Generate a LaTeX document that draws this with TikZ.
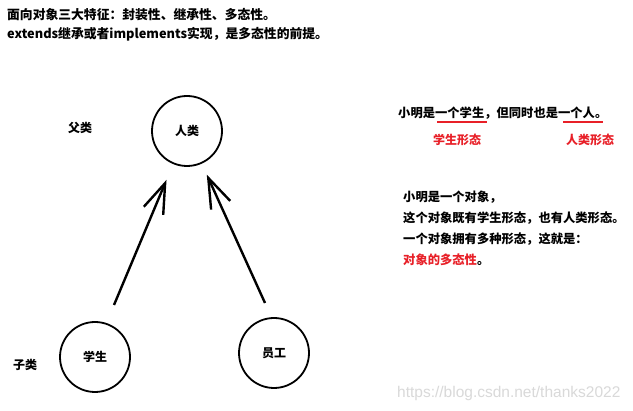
\documentclass[tikz,border=0pt]{standalone}
\usepackage{fontspec}
\usepackage{xcolor}
\usepackage{tikz}
\usetikzlibrary{arrows.meta}
\setmainfont{Noto Sans CJK SC}
\newfontfamily\webfont{Liberation Sans}
\definecolor{formred}{RGB}{232,32,40}

\tikzset{
  cls/.style={draw, circle, line width=1.8pt, minimum size=70pt, inner sep=0pt,
    font=\fontsize{12}{14}\selectfont\bfseries},
  lbl/.style={inner sep=0pt, font=\fontsize{12}{14}\selectfont\bfseries},
  txt/.style={anchor=west, inner sep=0pt, font=\fontsize{12.3}{14}\selectfont\bfseries},
  inherit/.style={line width=2.4pt, -{Straight Barb[length=30pt,width=21pt,line width=2.4pt]}},
}

\begin{document}
\begin{tikzpicture}[x=1pt, y=-1pt]
        \fill [white] (0,0) rectangle (633,411);
        \useasboundingbox (0,0) rectangle (633,411);
        \node [txt, font=\fontsize{12.8}{15}\selectfont\bfseries] (intro) at (7,15) {面向对象三大特征：封装性、继承性、多态性。};
        \node [txt, font=\fontsize{12.8}{15}\selectfont\bfseries] (premise) at (7,34) {extends继承或者implements实现，是多态性的前提。};
        \node [cls] (person) at (187,131) {人类};
        \node [cls] (student) at (95,357) {学生};
        \node [cls] (worker) at (274,353) {员工};
        \node [lbl] (parent) at (80,128) {父类};
        \node [lbl] (child) at (25,365) {子类};
        \coordinate (stutail) at (114,305);
        \coordinate (worktail) at (265,303);
        \draw [inherit, shorten >=17pt] (stutail) -- (person);
        \draw [inherit, shorten >=12pt] (worktail) -- (person);
        \node [txt] (sentence) at (398,113) {小明是一个学生，但同时也是一个人。};
        \draw [formred, line width=2pt] (437,122) -- (487,122);
        \draw [formred, line width=2pt] (563,122) -- (603,122);
        \node [lbl, text=formred] (stuform) at (457,140) {学生形态};
        \node [lbl, text=formred] (humform) at (590,140) {人类形态};
        \node [txt] (obj) at (403,197) {小明是一个对象，};
        \node [txt] (both) at (403,218) {这个对象既有学生形态，也有人类形态。};
        \node [txt] (many) at (403,239) {一个对象拥有多种形态，这就是：};
        \node [txt] (poly) at (403,260) {\textcolor{formred}{对象的多态性}。};
        \node [anchor=west, inner sep=0pt, text=gray!30, font=\webfont\fontsize{15.5}{17}\selectfont] (mark) at (397,393) {https://blog.csdn.net/thanks2022}; % watermark
\end{tikzpicture}
\end{document}
